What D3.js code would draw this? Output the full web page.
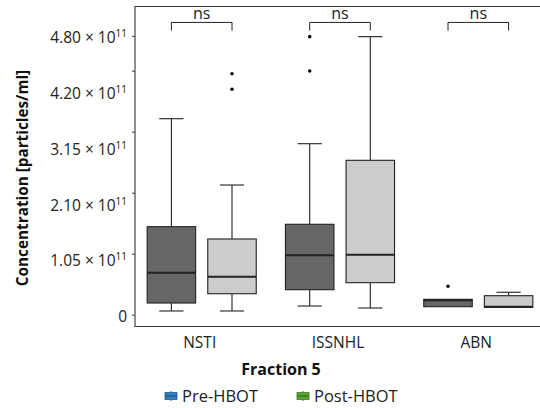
<!DOCTYPE html>
<html><head><meta charset="utf-8">
<script src="https://cdn.jsdelivr.net/npm/d3@7"></script>
<style>body{margin:0;background:#fff}svg{display:block;font-family:"Open Sans",sans-serif}</style>
</head><body><svg id="c" width="540" height="408"></svg>
<script>
const categories = ["NSTI", "ISSNHL", "ABN"];
const groups = ["Pre-HBOT", "Post-HBOT"];
const yTicks = [0, 1.05, 2.10, 3.15, 4.20, 4.80]; // ×10^11
const yTickLabels = ["0", "1.05", "2.10", "3.15", "4.20", "4.80"];
// five-number summaries (×10^11): [low whisker, Q1, median, Q3, high whisker]
const preStats = [[0.064, 0.201, 0.723, 1.515, 3.373], [0.150, 0.430, 1.022, 1.556, 2.943], [0.138, 0.138, 0.25, 0.265, 0.265]];
const postStats = [[0.064, 0.361, 0.654, 1.303, 2.232], [0.115, 0.551, 1.033, 2.657, 4.785], [0.127, 0.127, 0.138, 0.327, 0.386]];
const preOutliers = [[], [4.785, 4.194], [0.489]];
const postOutliers = [[4.148, 3.879], [], []];
const sigLabels = ["ns", "ns", "ns"];
const fills = ["#666666", "#cccccc"];
const keyColors = ["#2f7fc0", "#5aa52f"];

const svg = d3.select("#c");
const L = 135, T = 6.5, B = 326.5, R = 546;
const y = d3.scaleLinear().domain([0, 4.8]).range([314.7, 35.8]);
// tick labels sit on an evenly spaced track, independent of the tick marks (as in the reference)
const yLab = d3.scalePoint().domain(yTickLabels).range([316.7, 38.2]);
const x = d3.scalePoint().domain(categories).range([201.7, 478.3]);
const xi = d3.scaleBand().domain(groups).range([-60.6, 60.6]);
const bw = xi.bandwidth() * 0.8;
const FS = 15.5;

// panel border
svg.append("path").attr("d", `M${R},${T}H${L}V${B}H${R}`).attr("fill", "none").attr("stroke", "#333").attr("stroke-width", 1.1);

// y axis
const ya = svg.append("g").attr("transform", `translate(${L},0)`)
  .call(d3.axisLeft(y).tickValues(yTicks).tickSize(3).tickFormat(""));
ya.select(".domain").remove();
ya.selectAll("line").attr("stroke", "#333");
const yl = svg.append("g");
yTickLabels.forEach(v => {
  const t = yl.append("text").attr("x", 127).attr("y", yLab(v) + 5.2).attr("text-anchor", "end")
    .attr("font-size", FS).attr("fill", "#222");
  if (v === "0") { t.text("0"); }
  else {
    t.append("tspan").text(v + " × 10");
    t.append("tspan").attr("font-size", 10).attr("dy", -6).text("11");
  }
});

// x axis labels
svg.append("g").selectAll("text").data(categories).join("text")
  .attr("x", d => x(d) - 2).attr("y", 348).attr("text-anchor", "middle")
  .attr("font-size", FS).attr("fill", "#222").text(d => d);

// boxes
const allStats = [preStats, postStats];
const allOut = [preOutliers, postOutliers];
groups.forEach((g, gi) => {
  categories.forEach((c, ci) => {
    const s = allStats[gi][ci];
    const cx = x(c) + xi(g) + xi.bandwidth() / 2;
    const gg = svg.append("g").attr("stroke", "#222").attr("stroke-width", 1.1);
    if (s[4] > s[3]) {
      gg.append("line").attr("x1", cx).attr("x2", cx).attr("y1", y(s[3])).attr("y2", y(s[4]));
      gg.append("line").attr("x1", cx - bw / 4).attr("x2", cx + bw / 4).attr("y1", y(s[4])).attr("y2", y(s[4]));
    }
    if (s[0] < s[1]) {
      gg.append("line").attr("x1", cx).attr("x2", cx).attr("y1", y(s[1])).attr("y2", y(s[0]));
      gg.append("line").attr("x1", cx - bw / 4).attr("x2", cx + bw / 4).attr("y1", y(s[0])).attr("y2", y(s[0]));
    }
    gg.append("rect").attr("x", cx - bw / 2).attr("width", bw).attr("y", y(s[3])).attr("height", y(s[1]) - y(s[3]))
      .attr("fill", fills[gi]);
    gg.append("line").attr("x1", cx - bw / 2).attr("x2", cx + bw / 2).attr("y1", y(s[2])).attr("y2", y(s[2])).attr("stroke-width", 2);
    allOut[gi][ci].forEach(o => {
      svg.append("circle").attr("cx", cx).attr("cy", y(o)).attr("r", 1.8).attr("fill", "#111");
    });
  });
});

// significance brackets
categories.forEach((c, ci) => {
  const x1 = x(c) + xi(groups[0]) + xi.bandwidth() / 2;
  const x2 = x(c) + xi(groups[1]) + xi.bandwidth() / 2;
  svg.append("path").attr("d", `M${x1},${y(4.89)}V${y(5.03)}H${x2}V${y(4.89)}`)
    .attr("fill", "none").attr("stroke", "#222").attr("stroke-width", 1);
  svg.append("text").attr("x", (x1 + x2) / 2).attr("y", y(5.03) - 3.3).attr("text-anchor", "middle")
    .attr("font-size", 16).attr("fill", "#222").text(sigLabels[ci]);
});

// axis titles
svg.append("text").attr("x", 281).attr("y", 374.5).attr("text-anchor", "middle")
  .attr("font-size", 16).attr("font-weight", "bold").attr("fill", "#111").text("Fraction 5");
svg.append("text").attr("transform", "translate(27.5,178) rotate(-90)").attr("text-anchor", "middle")
  .attr("font-size", 15.3).attr("font-weight", "bold").attr("fill", "#111").text("Concentration [particles/ml]");

// legend
const legX = [165, 297];
groups.forEach((g, gi) => {
  const lg = svg.append("g").attr("transform", `translate(${legX[gi]},396)`);
  lg.append("line").attr("x1", 6).attr("x2", 6).attr("y1", -5).attr("y2", 5).attr("stroke", d3.color(keyColors[gi]).darker(1));
  lg.append("rect").attr("x", 0).attr("y", -3.5).attr("width", 12).attr("height", 7).attr("fill", keyColors[gi])
    .attr("stroke", d3.color(keyColors[gi]).darker(0.8)).attr("stroke-width", 0.8);
  lg.append("line").attr("x1", 0).attr("x2", 12).attr("y1", 0).attr("y2", 0).attr("stroke", d3.color(keyColors[gi]).darker(1.5)).attr("stroke-width", 1);
  lg.append("text").attr("x", 17).attr("y", 5.5).attr("font-size", 16.5).attr("fill", "#222").text(g);
});
</script></body></html>
